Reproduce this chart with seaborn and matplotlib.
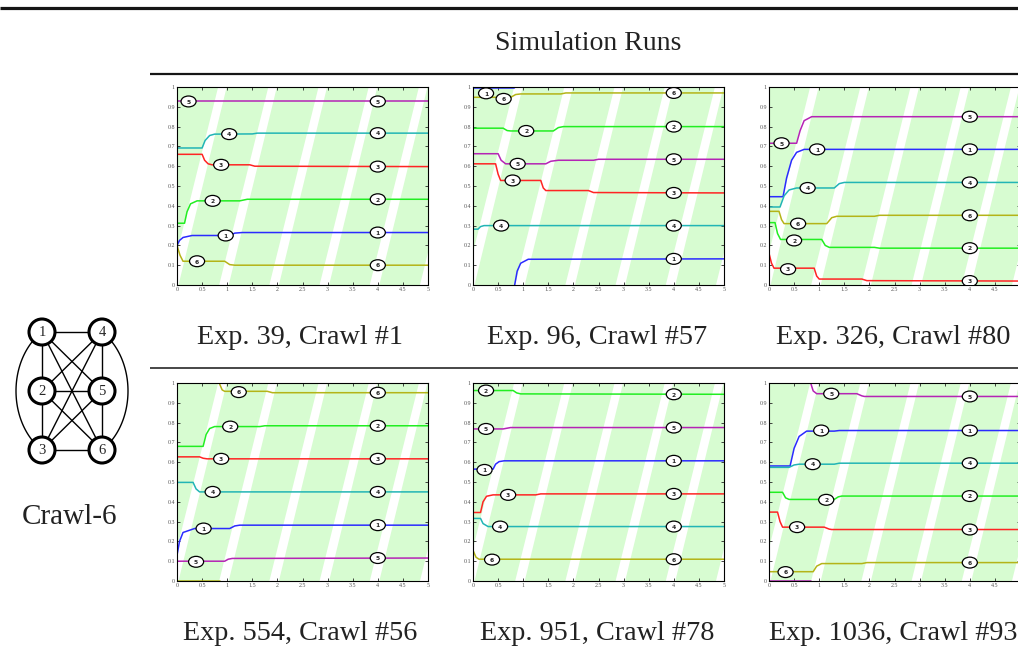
import numpy as np
import pandas as pd
import matplotlib
matplotlib.use("Agg")
import matplotlib.pyplot as plt
from matplotlib.patches import Ellipse, Circle
import seaborn as sns

W, H = 1018, 662

NODE_COLORS = {"1": "#2b2bff", "2": "#22ee22", "3": "#ff2424",
               "4": "#22b5b5", "5": "#b524b5", "6": "#b4b418"}
BG = "#d7fcd1"

# Phase traces for every node: node -> segments of (time, phase) knots.
# A phase that passes 1 wraps back to 0, hence the split segments.
EXP39 = {
    "1": [[(0, 0.2), (0.05, 0.225), (0.12, 0.24), (0.3, 0.25), (1.05, 0.25), (1.15, 0.262), (1.3, 0.265), (5, 0.265)]],
    "2": [[(0, 0.312), (0.15, 0.312), (0.2, 0.37), (0.27, 0.41), (0.4, 0.425), (1.25, 0.425), (1.4, 0.433), (5, 0.433)]],
    "3": [[(0, 0.66), (0.5, 0.66), (0.55, 0.63), (0.62, 0.612), (0.7, 0.607), (1.45, 0.607), (1.55, 0.6), (5, 0.598)]],
    "4": [[(0, 0.692), (0.5, 0.692), (0.56, 0.73), (0.65, 0.755), (0.75, 0.762), (1.5, 0.763), (1.6, 0.767), (5, 0.767)]],
    "5": [[(0, 0.927), (5, 0.927)]],
    "6": [[(0, 0.2), (0.06, 0.15), (0.12, 0.12), (0.95, 0.12), (1.05, 0.103), (1.15, 0.1), (5, 0.1)]],
}
EXP39_TAGS = {"1": (0.97, 0.25), "2": (0.71, 0.425), "3": (0.88, 0.607),
              "4": (1.04, 0.762), "5": (0.23, 0.927), "6": (0.4, 0.12)}

EXP96 = {
    "1": [[(0, 0.995), (0.82, 0.995), (0.84, 1.0)],
          [(0.83, 0.0), (0.88, 0.07), (0.95, 0.11), (1.1, 0.13), (5, 0.132)]],
    "2": [[(0, 0.792), (0.6, 0.792), (0.68, 0.78), (0.75, 0.778), (1.6, 0.778), (1.7, 0.795), (1.8, 0.8), (5, 0.8)]],
    "3": [[(0, 0.612), (0.45, 0.612), (0.5, 0.56), (0.55, 0.528), (1.35, 0.528), (1.4, 0.49), (1.45, 0.477),
           (2.3, 0.477), (2.4, 0.467), (5, 0.465)]],
    "4": [[(0, 0.282), (0.1, 0.282), (0.15, 0.295), (0.22, 0.3), (5, 0.3)]],
    "5": [[(0, 0.663), (0.5, 0.663), (0.56, 0.63), (0.65, 0.612), (1.45, 0.612), (1.55, 0.625), (1.7, 0.63),
           (2.4, 0.63), (2.5, 0.635), (5, 0.635)]],
    "6": [[(0, 0.948), (0.75, 0.948), (0.85, 0.962), (0.95, 0.965), (1.75, 0.965), (1.85, 0.97), (5, 0.97)]],
}
EXP96_TAGS = {"1": (0.26, 0.968), "2": (1.06, 0.778), "3": (0.79, 0.528),
              "4": (0.56, 0.3), "5": (0.89, 0.612), "6": (0.61, 0.94)}

EXP326 = {
    "1": [[(0, 0.446), (0.28, 0.446), (0.35, 0.54), (0.45, 0.63), (0.55, 0.67), (0.7, 0.685), (5, 0.685)]],
    "2": [[(0, 0.315), (0.12, 0.315), (0.17, 0.26), (0.23, 0.23), (1.05, 0.23), (1.12, 0.2), (1.2, 0.19),
           (2.1, 0.19), (2.2, 0.186), (5, 0.186)]],
    "3": [[(0, 0.16), (0.05, 0.11), (0.1, 0.085), (0.9, 0.085), (0.95, 0.045), (1.0, 0.03), (1.85, 0.03),
           (1.95, 0.022), (5, 0.02)]],
    "4": [[(0, 0.394), (0.22, 0.394), (0.3, 0.45), (0.4, 0.48), (0.55, 0.49), (1.3, 0.49), (1.4, 0.512),
           (1.5, 0.518), (5, 0.518)]],
    "5": [[(0, 0.716), (0.55, 0.716), (0.62, 0.78), (0.7, 0.83), (0.85, 0.85), (5, 0.85)]],
    "6": [[(0, 0.372), (0.2, 0.372), (0.25, 0.33), (0.3, 0.31), (1.15, 0.31), (1.25, 0.34), (1.35, 0.347),
           (2.1, 0.347), (2.2, 0.352), (5, 0.352)]],
}
EXP326_TAGS = {"1": (0.96, 0.685), "2": (0.5, 0.225), "3": (0.38, 0.08),
               "4": (0.77, 0.49), "5": (0.25, 0.716), "6": (0.58, 0.31)}

EXP554 = {
    "1": [[(0, 0.13), (0.05, 0.2), (0.12, 0.245), (0.35, 0.265), (1.05, 0.265), (1.15, 0.278), (1.25, 0.282), (5, 0.282)]],
    "2": [[(0, 0.68), (0.52, 0.68), (0.58, 0.74), (0.65, 0.77), (0.75, 0.78), (1.65, 0.78), (1.75, 0.784), (5, 0.784)]],
    "3": [[(0, 0.627), (0.45, 0.627), (0.52, 0.62), (0.6, 0.617), (5, 0.617)]],
    "4": [[(0, 0.498), (0.32, 0.498), (0.38, 0.465), (0.45, 0.45), (5, 0.45)]],
    "5": [[(0, 0.1), (0.95, 0.1), (1.02, 0.11), (1.1, 0.114), (5, 0.116)]],
    "6": [[(0, 0.0), (0.85, 0.0)],
          [(0.84, 1.0), (0.9, 0.965), (0.95, 0.958), (1.8, 0.958), (1.9, 0.951), (5, 0.951)]],
}
EXP554_TAGS = {"1": (0.53, 0.265), "2": (1.06, 0.78), "3": (0.88, 0.617),
               "4": (0.71, 0.45), "5": (0.38, 0.097), "6": (1.23, 0.954)}

EXP951 = {
    "1": [[(0, 0.565), (0.4, 0.565), (0.45, 0.59), (0.52, 0.603), (0.62, 0.607), (5, 0.607)]],
    "2": [[(0, 0.962), (0.8, 0.962), (0.87, 0.95), (0.95, 0.945), (5, 0.943)]],
    "3": [[(0, 0.346), (0.15, 0.346), (0.2, 0.4), (0.27, 0.428), (0.4, 0.435), (1.25, 0.435), (1.35, 0.44), (5, 0.44)]],
    "4": [[(0, 0.316), (0.15, 0.316), (0.2, 0.29), (0.3, 0.275), (5, 0.275)]],
    "5": [[(0, 0.768), (0.6, 0.768), (0.75, 0.775), (5, 0.775)]],
    "6": [[(0, 0.155), (0.06, 0.12), (0.12, 0.11), (5, 0.11)]],
}
EXP951_TAGS = {"1": (0.23, 0.561), "2": (0.26, 0.962), "3": (0.7, 0.435),
               "4": (0.54, 0.275), "5": (0.26, 0.768), "6": (0.38, 0.108)}

EXP1036 = {
    "1": [[(0, 0.581), (0.42, 0.581), (0.5, 0.67), (0.6, 0.73), (0.75, 0.757), (1.3, 0.757), (1.4, 0.76), (5, 0.76)]],
    "2": [[(0, 0.448), (0.27, 0.448), (0.33, 0.42), (0.4, 0.412), (1.3, 0.412), (1.38, 0.425), (1.45, 0.429), (5, 0.429)]],
    "3": [[(0, 0.348), (0.17, 0.348), (0.22, 0.3), (0.27, 0.272), (1.1, 0.272), (1.2, 0.262), (1.25, 0.26), (5, 0.26)]],
    "4": [[(0, 0.574), (0.4, 0.574), (0.5, 0.586), (0.6, 0.59), (1.3, 0.59), (1.4, 0.595), (5, 0.595)]],
    "5": [[(0, 0.0), (0.83, 0.0)],
          [(0.83, 1.0), (0.88, 0.96), (0.95, 0.946), (1.75, 0.946), (1.85, 0.935), (1.9, 0.932), (5, 0.932)]],
    "6": [[(0, 0.047), (0.88, 0.047), (0.95, 0.075), (1.05, 0.088), (1.85, 0.088), (1.95, 0.093), (5, 0.093)]],
}
EXP1036_TAGS = {"1": (1.04, 0.76), "2": (1.14, 0.41), "3": (0.56, 0.272),
                "4": (0.87, 0.59), "5": (1.24, 0.946), "6": (0.33, 0.045)}

CAPTIONS = ["Exp. 39, Crawl #1", "Exp. 96, Crawl #57", "Exp. 326, Crawl #80",
            "Exp. 554, Crawl #56", "Exp. 951, Crawl #78", "Exp. 1036, Crawl #93"]
RUNS = [EXP39, EXP96, EXP326, EXP554, EXP951, EXP1036]
TAGS = [EXP39_TAGS, EXP96_TAGS, EXP326_TAGS, EXP554_TAGS, EXP951_TAGS, EXP1036_TAGS]
TAG_TIME = 4.0

X_TICKS = [0, 0.5, 1, 1.5, 2, 2.5, 3, 3.5, 4, 4.5, 5]
Y_TICKS = [0, 0.1, 0.2, 0.3, 0.4, 0.5, 0.6, 0.7, 0.8, 0.9, 1]

# Crawl-6 topology: the complete graph on six nodes
GRAPH_NODES = ["1", "2", "3", "4", "5", "6"]
GRAPH_EDGES = [("1", "4"), ("1", "2"), ("2", "3"), ("3", "6"), ("4", "5"), ("5", "6"),
               ("2", "5"), ("1", "5"), ("1", "6"), ("4", "2"), ("4", "3"), ("2", "6"), ("5", "3")]
GRAPH_ARCS = [("1", "3"), ("4", "6")]

sns.set_style("ticks")
plt.rcParams["font.family"] = ["Liberation Serif", "DejaVu Serif"]

fig = plt.figure(figsize=(W / 100, H / 100), dpi=100)


def px_box(left, top, width, height):
    return [left / W, 1 - (top + height) / H, width / W, height / H]


# overlay in pixel units for rules, captions and the topology sketch
ov = fig.add_axes([0, 0, 1, 1], zorder=0)
ov.set_xlim(0, W)
ov.set_ylim(H, 0)
ov.axis("off")

ov.plot([0, W], [8, 8], color="#151515", lw=2.3, solid_capstyle="butt")
ov.plot([150, W], [74, 74], color="#151515", lw=1.6, solid_capstyle="butt")
ov.plot([150, W], [368, 368], color="#151515", lw=1.1, solid_capstyle="butt")
ov.text(588, 44, "Simulation Runs", ha="center", va="center", fontsize=20, color="#222222")

col_left = [177, 473, 769]
col_center = [300, 597, 893]
row_top = [87, 383]
row_caption = [338, 634]
panel_w, panel_h = 251, 198

for i, (traces, tags, caption) in enumerate(zip(RUNS, TAGS, CAPTIONS)):
    r, c = divmod(i, 3)
    ax = fig.add_axes(px_box(col_left[c], row_top[r], panel_w, panel_h), zorder=2)
    ax.set_facecolor(BG)
    # slanted white bands across the panel background
    for j in range(-1, 6):
        ax.fill([0.84 + j, 1.03 + j, 1.99 + j, 1.82 + j], [0, 0, 1, 1],
                color="white", lw=0, zorder=0.5)

    rows = []
    for node, segs in traces.items():
        for k, seg in enumerate(segs):
            for t, v in seg:
                rows.append((node, f"{node}-{k}", t, v))
    df = pd.DataFrame(rows, columns=["node", "seg", "t", "v"])
    sns.lineplot(data=df, x="t", y="v", hue="node", units="seg", estimator=None,
                 sort=False, palette=NODE_COLORS, legend=False, lw=1.1, ax=ax)

    for node, (tx, ty) in tags.items():
        end_v = traces[node][-1][-1][1]
        for (ex, ey) in [(tx, ty), (TAG_TIME, end_v)]:
            ax.add_patch(Ellipse((ex, ey), 0.3, 0.055, facecolor="white",
                                 edgecolor="black", lw=0.9, zorder=4))
            ax.text(ex, ey - 0.004, node, ha="center", va="center", fontsize=4.3,
                    fontweight="bold", family="DejaVu Sans", zorder=5, clip_on=True)

    ax.set_xlim(0, 5)
    ax.set_ylim(0, 1)
    ax.set_xticks(X_TICKS)
    # the right-hand column runs past the page edge, so its last label is not shown
    xlabels = [f"{v:g}" for v in X_TICKS]
    if c == 2:
        xlabels[-1] = ""
    ax.set_xticklabels(xlabels)
    ax.set_yticks(Y_TICKS)
    ax.set_yticklabels([f"{v:g}" for v in Y_TICKS])
    ax.tick_params(direction="in", length=2.5, width=0.6, labelsize=4.3,
                   labelcolor="#555555", pad=1.5, top=True, right=True)
    ax.set(xlabel="", ylabel="")
    for sp in ax.spines.values():
        sp.set_visible(True)
        sp.set_linewidth(0.8)
        sp.set_color("black")

    ov.text(col_center[c], row_caption[r], caption, ha="center", va="center",
            fontsize=20.3, color="#222222")

# topology sketch
pos = {"1": (42, 332), "2": (42, 391), "3": (42, 450),
       "4": (102, 332), "5": (102, 391), "6": (102, 450)}
for a, b in GRAPH_EDGES:
    ov.plot([pos[a][0], pos[b][0]], [pos[a][1], pos[b][1]], color="black", lw=1.0, zorder=1)
for (a, b), cx in zip(GRAPH_ARCS, [70, 74]):
    ya, yb = pos[a][1], pos[b][1]
    cy = (ya + yb) / 2
    half = (yb - ya) / 2
    ax_a = 54
    t0 = np.arccos((pos[a][0] - cx) / ax_a)
    th = np.linspace(-t0, t0, 80) if pos[a][0] > cx else np.linspace(t0, 2 * np.pi - t0, 80)
    by = half / np.sin(t0)
    ov.plot(cx + ax_a * np.cos(th), cy + by * np.sin(th), color="black", lw=1.0, zorder=1)
for n in GRAPH_NODES:
    ov.add_patch(Circle(pos[n], 13, facecolor="white", edgecolor="black", lw=2.2, zorder=3))
    ov.text(pos[n][0], pos[n][1] + 0.5, n, ha="center", va="center", fontsize=10.5, zorder=4)
ov.text(70, 517, "Crawl-6", ha="center", va="center", fontsize=21, color="#222222")

fig.savefig("out.png", dpi=100)
